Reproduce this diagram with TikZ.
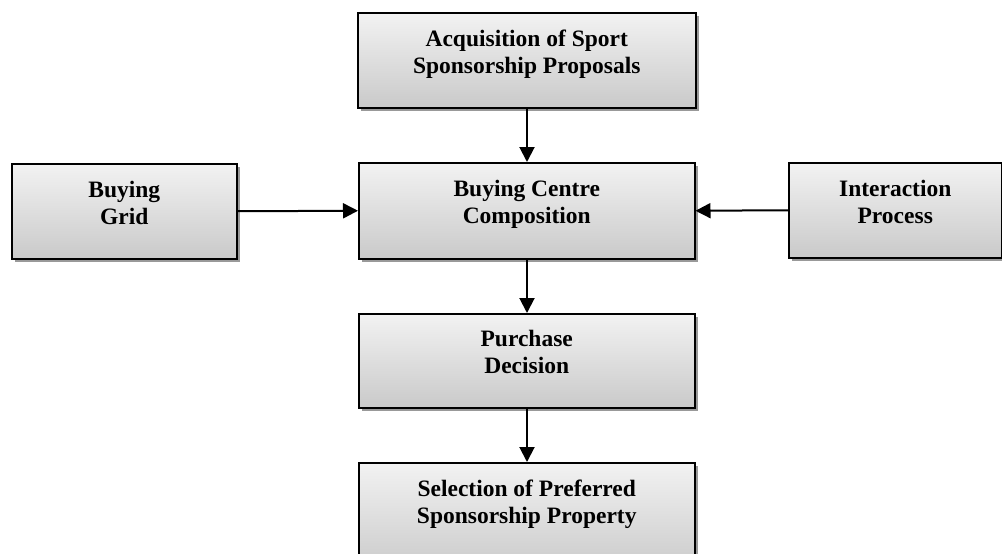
\documentclass[tikz,border=0pt]{standalone}
\usepackage{fontspec}
\setmainfont{Liberation Serif}
\usetikzlibrary{arrows.meta,shadows}
\tikzset{
  box/.style={draw=black, line width=1.5pt, top color=gray!10, bottom color=gray!42,
    shading angle=0, align=center, font=\bfseries\fontsize{23.5}{27}\selectfont,
    inner sep=0pt, anchor=north west, text depth=17pt,
    drop shadow={shadow xshift=3pt, shadow yshift=-3pt, fill=gray!80, opacity=1}},
  conn/.style={line width=2pt, -{Triangle[length=15pt,width=15pt]}}
}
\begin{document}
\begin{tikzpicture}[x=1pt,y=-1pt]
\clip (0,0) rectangle (1002,554);
\fill[white] (0,0) rectangle (1002,554);
\node[box, minimum width=338pt, minimum height=95pt] (acq) at (357,12) {Acquisition of Sport\\Sponsorship Proposals};
\node[box, minimum width=225pt, minimum height=95pt] (grid) at (11,163) {Buying\\Grid};
\node[box, minimum width=336pt, minimum height=96pt] (bcc) at (358,162) {Buying Centre\\Composition};
\node[box, minimum width=213pt, minimum height=95pt] (inter) at (788,162) {Interaction\\Process};
\node[box, minimum width=336pt, minimum height=94pt] (pur) at (358,313) {Purchase\\Decision};
\node[box, minimum width=336pt, minimum height=110pt, text depth=33pt] (sel) at (358,462) {Selection of Preferred\\Sponsorship Property};
\draw[conn] (acq.south -| 527,0) -- (bcc.north -| 527,0);
\draw[conn] (grid.east) -- (bcc.west);
\draw[conn] (inter.west) -- (bcc.east);
\draw[conn] (bcc.south -| 527,0) -- (pur.north -| 527,0);
\draw[conn] (pur.south -| 527,0) -- (sel.north -| 527,0);
\end{tikzpicture}
\end{document}
